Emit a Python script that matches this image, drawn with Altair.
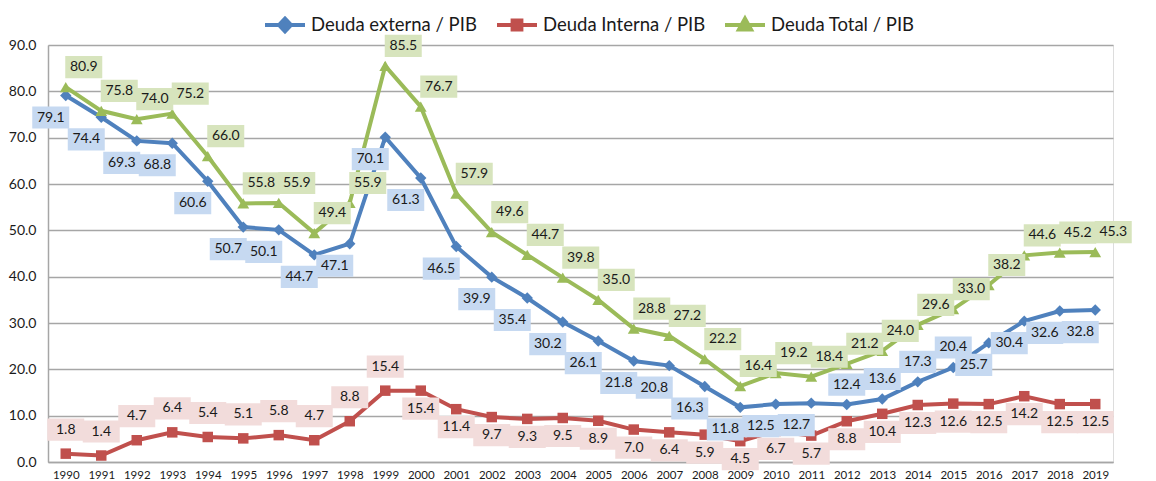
import altair as alt
import pandas as pd

anios = [str(a) for a in range(1990, 2020)]
externa = [79.1, 74.4, 69.3, 68.8, 60.6, 50.7, 50.1, 44.7, 47.1, 70.1, 61.3, 46.5, 39.9, 35.4, 30.2,
           26.1, 21.8, 20.8, 16.3, 11.8, 12.5, 12.7, 12.4, 13.6, 17.3, 20.4, 25.7, 30.4, 32.6, 32.8]
interna = [1.8, 1.4, 4.7, 6.4, 5.4, 5.1, 5.8, 4.7, 8.8, 15.4, 15.4, 11.4, 9.7, 9.3, 9.5,
           8.9, 7.0, 6.4, 5.9, 4.5, 6.7, 5.7, 8.8, 10.4, 12.3, 12.6, 12.5, 14.2, 12.5, 12.5]
total = [80.9, 75.8, 74.0, 75.2, 66.0, 55.8, 55.9, 49.4, 55.9, 85.5, 76.7, 57.9, 49.6, 44.7, 39.8,
         35.0, 28.8, 27.2, 22.2, 16.4, 19.2, 18.4, 21.2, 24.0, 29.6, 33.0, 38.2, 44.6, 45.2, 45.3]
series = ["Deuda externa / PIB", "Deuda Interna / PIB", "Deuda Total / PIB"]

rows = []
for s, vals in zip(series, [externa, interna, total]):
    for a, v in zip(anios, vals):
        rows.append({"serie": s, "anio": a, "valor": v})
df = pd.DataFrame(rows)

FONT = "Lato"
TXT = "#1a1a1a"
GRID = "#a6a6a6"

x_enc = alt.X("anio:O", scale=alt.Scale(type="point", padding=0.5),
              axis=alt.Axis(title=None, labelAngle=0, ticks=False, domain=True,
                            domainColor=GRID, domainWidth=1.5, labelFont=FONT,
                            labelFontSize=11.5, labelColor=TXT, labelPadding=7, grid=False))
y_enc = alt.Y("valor:Q", scale=alt.Scale(domain=[0, 90], nice=False),
              axis=alt.Axis(title=None, values=list(range(0, 91, 10)), format=".1f",
                            ticks=False, grid=True, gridColor=GRID, gridWidth=1.5,
                            domain=True, domainColor=GRID, domainWidth=1.5,
                            labelFont=FONT, labelFontSize=14, labelColor=TXT, labelPadding=12))

BOX = "M-1,-0.6 L1,-0.6 L1,0.6 L-1,0.6 Z"
LEG_PATHS = {
    "diamond": "M-1,0 L1,0 M0,-0.32 L0.3,0 L0,0.32 L-0.3,0 Z",
    "square": "M-1,0 L1,0 M-0.22,-0.22 L0.22,-0.22 L0.22,0.22 L-0.22,0.22 Z",
    "triangle-up": "M-1,0 L1,0 M0,-0.32 L0.3,0.22 L-0.3,0.22 Z",
}


def serie_marks(name, color, shape, msize, legx):
    base = alt.Chart(df).transform_filter(alt.datum.serie == name)
    line = base.mark_line(color=color, strokeWidth=4).encode(x=x_enc, y=y_enc)
    pts = base.mark_point(filled=True, opacity=1, shape=shape, size=msize).encode(
        x=x_enc, y=y_enc,
        color=alt.Color("serie:N", scale=alt.Scale(domain=[name], range=[color]),
                        legend=alt.Legend(orient="none", legendX=legx, legendY=-42, title=None,
                                          symbolType=LEG_PATHS[shape], symbolSize=1600,
                                          symbolStrokeColor=color, symbolStrokeWidth=4,
                                          symbolFillColor=color, labelLimit=0,
                                          labelFont=FONT, labelFontSize=18.5, labelColor=TXT,
                                          labelOffset=4, padding=0)))
    return alt.layer(line, pts)


def serie_labels(name, boxcolor, label_groups):
    base = alt.Chart(df).transform_filter(alt.datum.serie == name)
    layers = []
    for flt, dx, dy in label_groups:
        b = base if flt is None else base.transform_filter(flt)
        layers.append(b.mark_point(shape=BOX, filled=True, fill=boxcolor, opacity=1, size=1369,
                                   strokeWidth=0, xOffset=dx, yOffset=dy).encode(x=x_enc, y=y_enc))
        layers.append(b.mark_text(font=FONT, fontSize=14, color=TXT, dx=dx, dy=dy,
                                  baseline="middle", align="center").encode(
            x=x_enc, y=y_enc, text=alt.Text("valor:Q", format=".1f")))
    return layers


marks = [
    serie_marks(series[0], "#4f81bd", "diamond", 130, 215),
    serie_marks(series[1], "#c0504d", "square", 110, 447),
    serie_marks(series[2], "#9bbb59", "triangle-up", 140, 675),
]
near = "toNumber(datum.anio) >= 2012 && toNumber(datum.anio) <= 2015"
labels = (
    serie_labels(series[1], "#f2dcdb", [("toNumber(datum.anio) < 2000", 0, -24),
                                        ("toNumber(datum.anio) >= 2000", 0, 18)])
    + serie_labels(series[0], "#c6d9f1", [("!(" + near + ")", -15, 22), (near, 0, -20)])
    + serie_labels(series[2], "#d7e4bd", [(None, 18, -20)])
)

chart = alt.layer(*marks, *labels).resolve_scale(color="independent").properties(
    width=1065, height=417,
    autosize=alt.AutoSizeParams(type="none"),
    padding={"left": 40, "top": 37, "right": 35, "bottom": 19},
).configure_view(stroke=None).configure(background="white")

chart.save("out.html", embed_options={"renderer": "svg", "actions": False})
